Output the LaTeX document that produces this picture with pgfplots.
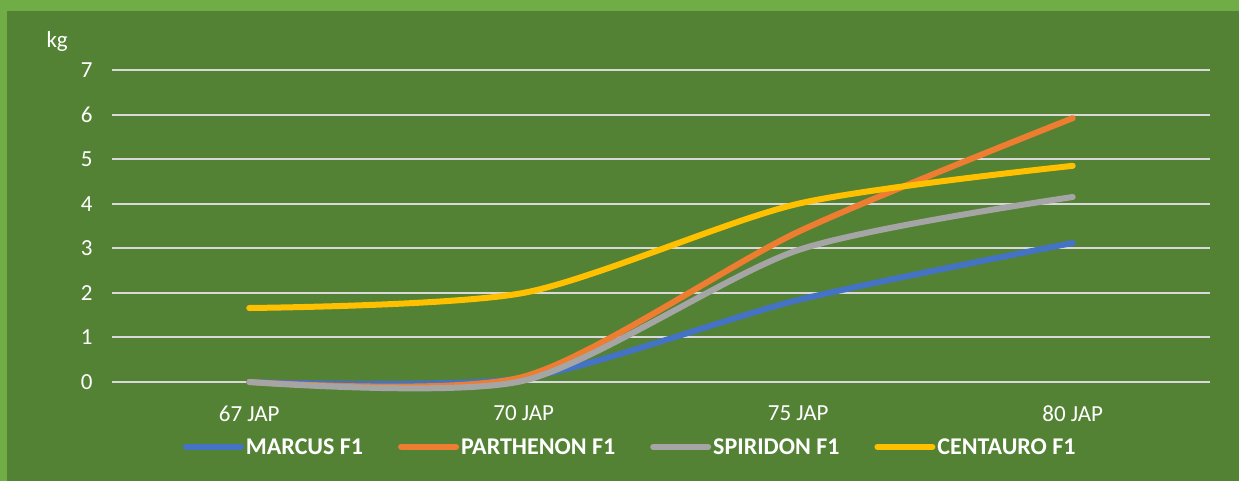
\documentclass[border=0pt]{standalone}
\usepackage{fontspec}
\setmainfont{Carlito}
\usepackage{pgfplots}
\pgfplotsset{compat=1.18}
\definecolor{bgouter}{HTML}{70AD47}
\definecolor{bginner}{HTML}{548235}
\definecolor{cblue}{HTML}{4472C4}
\definecolor{corange}{HTML}{ED7D31}
\definecolor{cgray}{HTML}{A5A5A5}
\definecolor{cgold}{HTML}{FFC000}
\definecolor{gridc}{HTML}{D9D9D9}
\begin{document}
\begin{tikzpicture}[x=1pt,y=1pt]
\fill[bgouter] (0,0) rectangle (1239,481);
\fill[bginner] (7,0) rectangle (1239,470);
\node[text=white, font=\fontsize{23}{27}\selectfont, anchor=base west] at (43,433) {kg};
\begin{axis}[
  at={(112pt,99pt)}, anchor=south west,
  scale only axis, width=1098pt, height=312pt,
  xmin=-0.5, xmax=3.5, ymin=0, ymax=7,
  axis line style={draw=none},
  clip=false,
  xtick={0,1,2,3},
  xticklabels={67 JAP,70 JAP,75 JAP,80 JAP},
  ytick={0,1,...,7},
  ymajorgrids,
  grid style={gridc, line width=2pt},
  major tick length=0pt,
  tick style={draw=none},
  /pgf/number format/assume math mode=true,
  tick label style={text=white, font=\fontsize{23}{27}\selectfont},
  yticklabel style={anchor=east, xshift=-16pt},
  xticklabel style={anchor=north, yshift=-20pt},
  legend columns=4,
  legend style={at={(0.472,-0.208)}, anchor=center, draw=none, fill=none,
    text=white, font=\bfseries\fontsize{24}{28}\selectfont,
    /tikz/every even column/.append style={column sep=33pt},
    inner sep=0pt, outer sep=0pt},
  legend image code/.code={\draw[#1, line width=6pt, line cap=round] (3pt,0pt) -- (58pt,0pt);},
  every axis plot/.append style={line width=6pt, line cap=round, smooth, tension=0.45, no markers},
]
\addplot[cblue] coordinates {(0,0) (1,0.09) (2,1.84) (3,3.12)};
\addplot[corange] coordinates {(0,0) (1,0.12) (2,3.37) (3,5.92)};
\addplot[cgray] coordinates {(0,0) (1,0.03) (2,2.96) (3,4.15)};
\addplot[cgold] coordinates {(0,1.66) (1,2.0) (2,4.0) (3,4.85)};
\legend{MARCUS F1,PARTHENON F1,SPIRIDON F1,CENTAURO F1}
\end{axis}
\end{tikzpicture}
\end{document}
